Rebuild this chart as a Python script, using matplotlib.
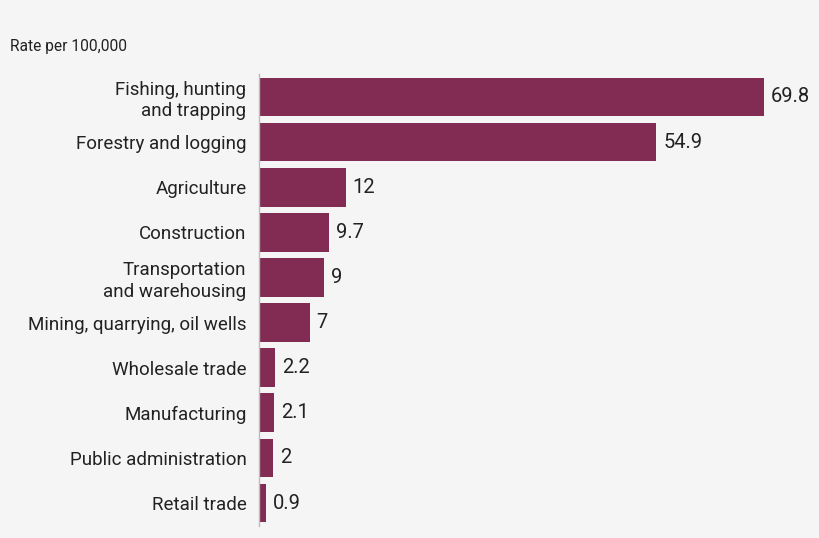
import matplotlib
matplotlib.use("Agg")
import matplotlib.pyplot as plt

categories = ["Fishing, hunting\nand trapping", "Forestry and logging", "Agriculture",
              "Construction", "Transportation\nand warehousing", "Mining, quarrying, oil wells",
              "Wholesale trade", "Manufacturing", "Public administration", "Retail trade"]
values = [69.8, 54.9, 12, 9.7, 9, 7, 2.2, 2.1, 2, 0.9]
value_labels = ["69.8", "54.9", "12", "9.7", "9", "7", "2.2", "2.1", "2", "0.9"]

plt.rcParams['font.family'] = ['Roboto', 'DejaVu Sans']
bg = "#f5f5f5"
bar_color = "#822b53"
text_color = "#222222"

fig = plt.figure(figsize=(8.2, 5.38), dpi=100, facecolor=bg)
W, H = 820, 538
left, right, top, bottom = 259, 809, 74.4, 525.6
ax = fig.add_axes([left / W, 1 - bottom / H, (right - left) / W, (bottom - top) / H])
ax.set_facecolor(bg)

ypos = list(range(len(values)))
ax.barh(ypos, values, height=0.86, color=bar_color)
ax.set_ylim(len(values) - 0.5, -0.5)
ax.set_xlim(0, (right - left) / 7.235)

for y, v, lab in zip(ypos, values, value_labels):
    ax.text(v + 0.95, y, lab, va="center", ha="left", fontsize=14.5, color=text_color)

ax.set_yticks(ypos)
ax.set_yticklabels(categories, fontsize=13.5, color=text_color, linespacing=1.25)
ax.tick_params(axis="y", length=0, pad=9)
ax.set_xticks([])
for s in ["top", "right", "bottom"]:
    ax.spines[s].set_visible(False)
ax.spines["left"].set_color("#bbbbbb")
ax.spines["left"].set_linewidth(1)

fig.text(10 / W, 1 - 47 / H, "Rate per 100,000", fontsize=11.2, color=text_color, va="center", ha="left")

fig.savefig("out.png", dpi=100, facecolor=bg)
